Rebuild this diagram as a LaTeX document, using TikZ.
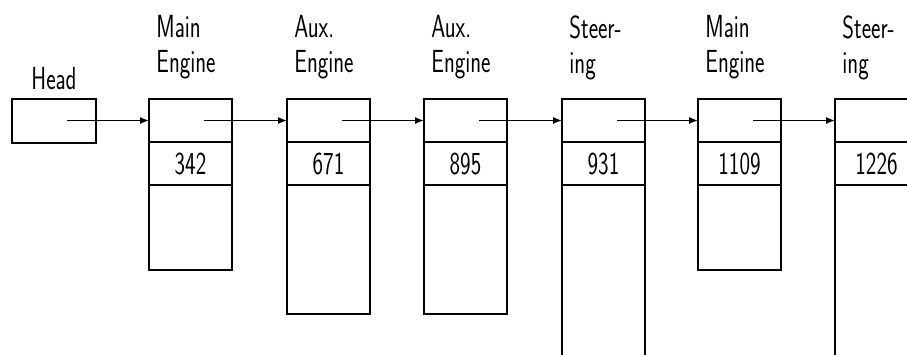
\documentclass[tikz,border=0pt]{standalone}
\usetikzlibrary{positioning, arrows.meta}

\begin{document}
\begin{tikzpicture}[x=1pt, y=-1pt, line width=1.3pt,
  font=\sffamily\fontsize{32}{35}\selectfont,
  cell/.style={draw, rectangle, minimum width=83pt, inner sep=0pt, outer sep=0pt, anchor=north west},
  txt/.style={inner sep=0pt, xscale=0.7},
  link/.style={-{Latex[length=9pt, width=7pt]}, line width=1.3pt}]

  \useasboundingbox (0,0) rectangle (907,354);
  \clip (0,0) rectangle (907,354);

  % Head pointer
  \node[cell, minimum width=84pt, minimum height=44pt] (head) at (12,99) {};
  \node[txt, anchor=base] (headlbl) at (54,89) {Head};
  \coordinate (p0) at (67,120.5);

  % Records: pointer cell, key cell, body
  \foreach \i/\xx/\vv/\hh/\ta/\tb in {1/149/342/85/Main/Engine, 2/287/671/129/Aux./Engine,
      3/424/895/129/Aux./Engine, 4/562/931/230/Steer-/ing,
      5/698/1109/85/Main/Engine, 6/835/1226/230/Steer-/ing} {
    \node[cell, minimum height=43pt] (ptr\i) at (\xx,99) {};
    \node[cell, minimum height=43pt] (val\i) at (\xx,142) {};
    \node[txt] (num\i) at (val\i.center) {\vv};
    \node[cell, minimum height=\hh pt] (body\i) at (\xx,185) {};
    \node[txt, anchor=north west, align=left] (lbl\i) at (\xx+7,15) {\ta\\\tb};
    \coordinate (p\i) at (\xx+55,120.5);
  }

  % Links
  \draw[link] (p0) -- (ptr1.west);
  \foreach \i [evaluate=\i as \j using int(\i+1)] in {1,...,5}
    \draw[link] (p\i) -- (ptr\j.west);
\end{tikzpicture}
\end{document}
